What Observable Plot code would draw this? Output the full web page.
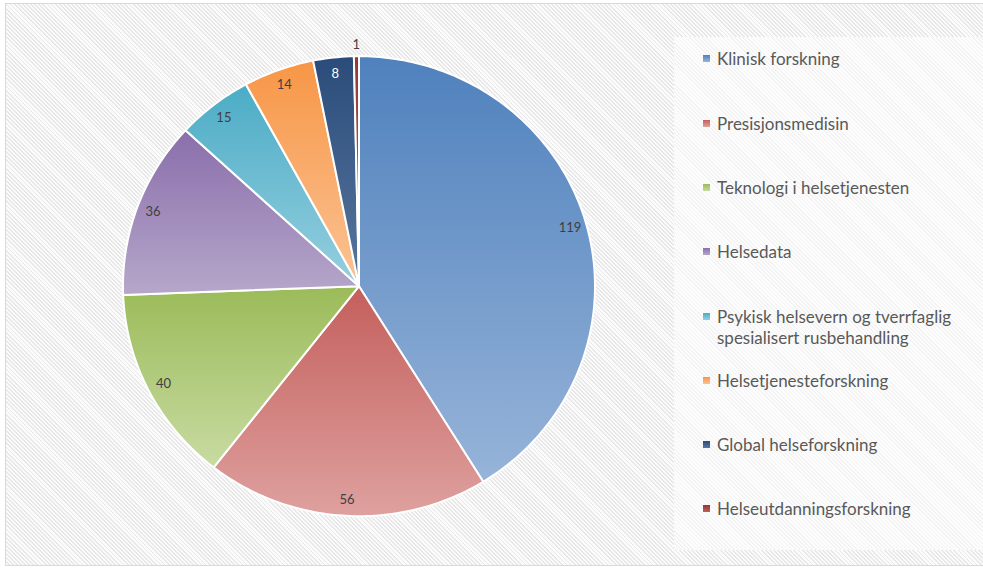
<!DOCTYPE html>
<html>
<head>
<meta charset="utf-8">
<script src="https://cdn.jsdelivr.net/npm/d3@7"></script>
<script src="https://cdn.jsdelivr.net/npm/@observablehq/plot@0.6"></script>
<style>
  html, body { margin: 0; padding: 0; background: #fff; }
  #wrap {
    position: relative; width: 983px; height: 569px; overflow: hidden;
    font-family: Lato, "Open Sans", sans-serif;
  }
  #frame {
    position: absolute; left: 5px; top: 3px; width: 990px; height: 563px;
    border: 1px solid #d9d9d9; box-sizing: border-box;
    background: repeating-linear-gradient(45deg, #fbfbfb 0px, #fbfbfb 1.6px, #e8e8e8 1.6px, #e8e8e8 2.9px);
  }
  #legend {
    position: absolute; left: 674px; top: 37px; width: 320px; height: 513px;
    background: repeating-linear-gradient(45deg, #fdfdfd 0px, #fdfdfd 1.8px, #f3f3f3 1.8px, #f3f3f3 2.9px);
  }
  .item { position: absolute; left: 43px; font-size: 17px; color: #595959; line-height: 21px; }
  .sw { position: absolute; left: -14px; top: 7px; width: 7px; height: 7px; }
  #chart { position: absolute; left: 0; top: 0; }
</style>
</head>
<body>
<div id="wrap">
  <div id="frame"></div>
  <div id="legend"></div>
  <div id="chart"></div>
</div>
<script>
const categories = [
  "Klinisk forskning",
  "Presisjonsmedisin",
  "Teknologi i helsetjenesten",
  "Helsedata",
  "Psykisk helsevern og tverrfaglig spesialisert rusbehandling",
  "Helsetjenesteforskning",
  "Global helseforskning",
  "Helseutdanningsforskning"
];
const values = [119, 56, 40, 36, 15, 14, 8, 1];
const topColors = ["#4f81bd", "#c45f5c", "#9bbb59", "#8a6eab", "#4bacc6", "#f79646", "#2b4c7a", "#953735"];
const bottomColors = ["#97b4d9", "#dea19f", "#c8dba2", "#b6a7ca", "#96cfdf", "#fbc395", "#58779f", "#c0605d"];
const legendLines = [
  ["Klinisk forskning"],
  ["Presisjonsmedisin"],
  ["Teknologi i helsetjenesten"],
  ["Helsedata"],
  ["Psykisk helsevern og tverrfaglig", "spesialisert rusbehandling"],
  ["Helsetjenesteforskning"],
  ["Global helseforskning"],
  ["Helseutdanningsforskning"]
];

const total = d3.sum(values);
let acc = 0;
const slices = values.map((v, i) => {
  const a0 = acc / total * 2 * Math.PI;
  acc += v;
  const a1 = acc / total * 2 * Math.PI;
  return {i, name: categories[i], value: v, a0, a1, mid: (a0 + a1) / 2};
});

function slicePoints(s) {
  const pts = [{x: 0, y: 0}];
  const n = Math.max(2, Math.ceil((s.a1 - s.a0) / (Math.PI / 180)));
  for (let k = 0; k <= n; k++) {
    const a = s.a0 + (s.a1 - s.a0) * k / n;
    pts.push({x: Math.sin(a), y: -Math.cos(a)});
  }
  return pts;
}

const labelR = s => (s.value / total < 0.01 ? 1.05 : 0.93);

const plot = Plot.plot({
  width: 670,
  height: 569,
  style: {background: "transparent", overflow: "visible"},
  x: {domain: [-1, 1], range: [122.5, 594.5], axis: null},
  y: {domain: [-1, 1], range: [55.7, 515.7], axis: null},
  color: {type: "identity"},
  marks: [
    ...slices.map(s => Plot.line(slicePoints(s), {
      x: "x", y: "y", curve: "linear-closed",
      fill: `url(#grad${s.i})`, stroke: "white", strokeWidth: 2, strokeLinejoin: "round"
    })),
    Plot.text(slices, {
      x: s => labelR(s) * Math.sin(s.mid),
      y: s => -labelR(s) * Math.cos(s.mid),
      text: s => String(s.value),
      fill: s => (s.i === 6 ? "#ffffff" : "#404040"),
      fontSize: 13,
      fontFamily: "Lato, 'Open Sans', sans-serif"
    })
  ]
});

// gradients
const svg = d3.select(plot);
const defs = svg.insert("defs", ":first-child");
slices.forEach(s => {
  const g = defs.append("linearGradient").attr("id", `grad${s.i}`)
    .attr("x1", 0).attr("y1", 0).attr("x2", 0).attr("y2", 1);
  g.append("stop").attr("offset", "0%").attr("stop-color", topColors[s.i]);
  g.append("stop").attr("offset", "100%").attr("stop-color", bottomColors[s.i]);
});
document.getElementById("chart").appendChild(plot);

// legend
const legendCenters = [58, 123, 187, 251, 316, 380, 444, 508];
const legend = d3.select("#legend");
categories.forEach((c, i) => {
  const it = legend.append("div").attr("class", "item")
    .style("top", (legendCenters[i] - 37 - 10.5) + "px");
  it.append("div").attr("class", "sw")
    .style("background", `linear-gradient(${topColors[i]}, ${bottomColors[i]})`);
  it.html(it.html() + legendLines[i].join("<br>"));
});
</script>
</body>
</html>
